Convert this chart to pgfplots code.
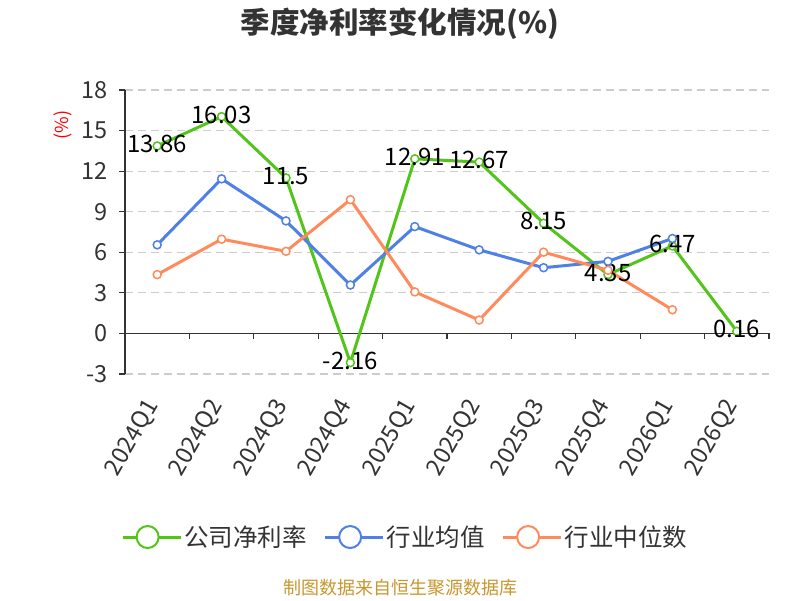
\documentclass[border=0pt]{standalone}
\usepackage{fontspec}
\setmainfont{Noto Sans CJK SC}
\usepackage{pgfplots}
\pgfplotsset{compat=1.18}
\definecolor{cgreen}{HTML}{52C41A}
\definecolor{cblue}{HTML}{4E80E6}
\definecolor{corange}{HTML}{FF8B5C}
\definecolor{ctext}{HTML}{333333}
\definecolor{cfoot}{HTML}{C8962E}
\definecolor{cgrid}{HTML}{CCCCCC}
\begin{document}
\begin{tikzpicture}
\useasboundingbox (0pt,0pt) rectangle (800pt,600pt);
\node[font=\fontsize{29.5}{29.5}\selectfont\bfseries, text=ctext] at (400pt,576pt) {季度净利率变化情况(\%)};
\node[font=\fontsize{18}{18}\selectfont, text=red, rotate=90] at (63pt,475pt) {(\%)};
\node[font=\fontsize{18}{18}\selectfont, text=cfoot] at (400pt,12pt) {制图数据来自恒生聚源数据库};
\begin{axis}[
  at={(125pt,226pt)}, anchor=south west,
  scale only axis, width=644pt, height=284pt,
  xmin=-0.5, xmax=9.5, ymin=-3, ymax=18,
  ytick={-3,0,3,6,9,12,15,18},
  xtick={0,...,9},
  xticklabels={2024Q1,2024Q2,2024Q3,2024Q4,2025Q1,2025Q2,2025Q3,2025Q4,2026Q1,2026Q2},
  axis x line*=bottom, axis y line*=left,
  x axis line style={draw=none},
  y axis line style={draw=ctext, line width=1.2pt, -},
  major x tick style={draw=none},
  major y tick style={draw=ctext, line width=1.2pt},
  tick align=outside, major tick length=6pt,
  ymajorgrids, grid style={dashed, dash pattern=on 8pt off 5pt, cgrid, line width=1.2pt},
  /pgf/number format/assume math mode=true,
  yticklabel style={font=\fontsize{23.5}{23.5}\selectfont, text=ctext, inner sep=0pt, xshift=-11pt},
  xticklabel style={font=\fontsize{23.5}{23.5}\selectfont, text=ctext, xshift=-4pt, yshift=-22pt, rotate=60, anchor=east, inner sep=0pt},
  legend columns=3,
  legend style={at={(0.435,-0.574)}, anchor=center, draw=none, fill=none,
    font=\fontsize{24.5}{24.5}\selectfont, text=ctext,
    /tikz/every even column/.append style={column sep=15pt}},
  legend image code/.code={\path (0pt,0pt) -- (58pt,0pt); \draw[line width=2pt] (0pt,0pt) -- (50pt,0pt); \draw[line width=2pt, fill=white] (25pt,0pt) circle (11pt);},
  clip=false,
]
\draw[ctext, line width=1.2pt] (axis cs:-0.5,0) -- (axis cs:9.5,0);
\pgfplotsinvokeforeach{0.5,1.5,2.5,3.5,4.5,5.5,6.5,7.5,8.5,9.5}{\draw[ctext, line width=1.2pt] (axis cs:#1,0) -- ++(0pt,-6pt);}
\addplot[cgreen, line width=3pt, mark=*, mark size=4pt, mark options={fill=white, draw=cgreen, line width=1.5pt},
  point meta=explicit symbolic, nodes near coords,
  every node near coord/.style={anchor=center, font=\fontsize{24}{24}\selectfont, text=black, yshift=2pt}]
  coordinates {(0,13.86)[13.86] (1,16.03)[16.03] (2,11.5)[11.5] (3,-2.16)[-2.16] (4,12.91)[12.91] (5,12.67)[12.67] (6,8.15)[8.15] (7,4.35)[4.35] (8,6.47)[6.47] (9,0.16)[0.16]};
\addlegendentry{公司净利率}
\addplot[cblue, line width=3pt, mark=*, mark size=4pt, mark options={fill=white, draw=cblue, line width=1.5pt}]
  coordinates {(0,6.55) (1,11.43) (2,8.32) (3,3.58) (4,7.9) (5,6.18) (6,4.86) (7,5.33) (8,7.02)};
\addlegendentry{行业均值}
\addplot[corange, line width=3pt, mark=*, mark size=4pt, mark options={fill=white, draw=corange, line width=1.5pt}]
  coordinates {(0,4.35) (1,6.97) (2,6.07) (3,9.89) (4,3.07) (5,0.99) (6,6.01) (7,4.67) (8,1.75)};
\addlegendentry{行业中位数}
\end{axis}
\end{tikzpicture}
\end{document}
